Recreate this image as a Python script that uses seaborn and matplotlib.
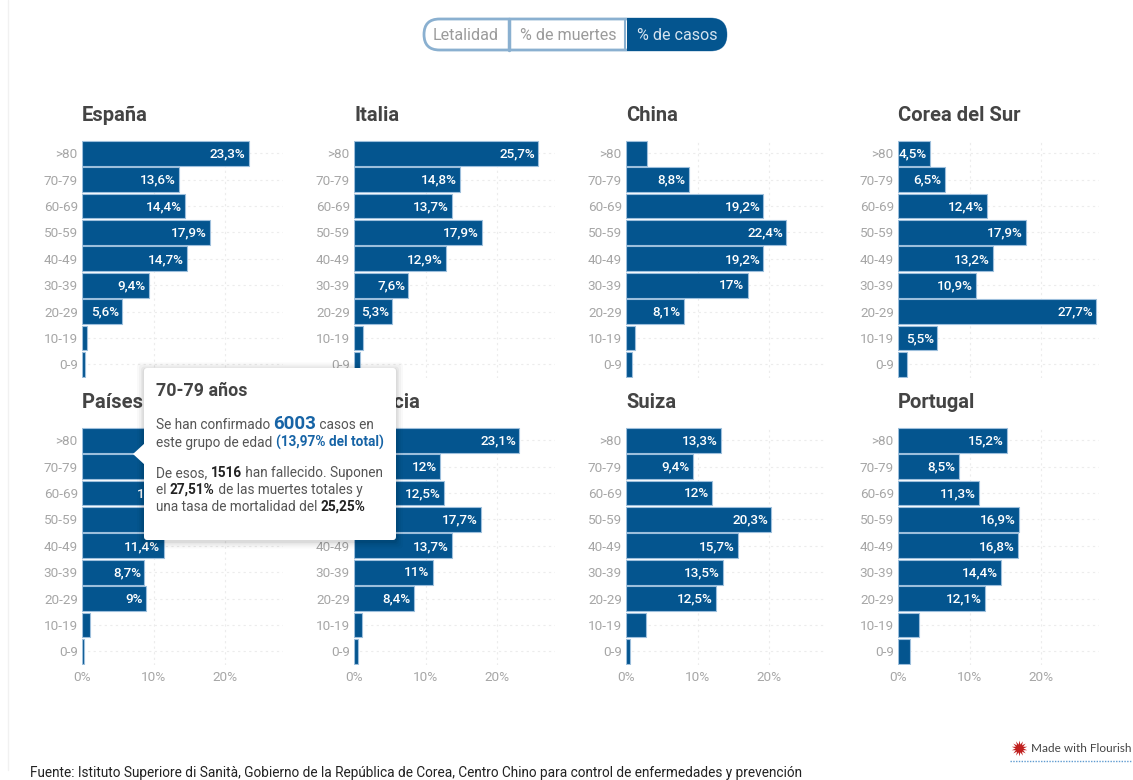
import numpy as np
import pandas as pd
import seaborn as sns
import matplotlib.pyplot as plt
from matplotlib.patches import FancyBboxPatch, Rectangle, Polygon

ages = ['>80', '70-79', '60-69', '50-59', '40-49', '30-39', '20-29', '10-19', '0-9']
countries = ['España', 'Italia', 'China', 'Corea del Sur',
             'Países Bajos', 'Francia', 'Suiza', 'Portugal']
espana = [23.3, 13.6, 14.4, 17.9, 14.7, 9.4, 5.6, 0.7, 0.4]
italia = [25.7, 14.8, 13.7, 17.9, 12.9, 7.6, 5.3, 1.3, 0.8]
china = [3.0, 8.8, 19.2, 22.4, 19.2, 17, 8.1, 1.2, 0.9]
corea = [4.5, 6.5, 12.4, 17.9, 13.2, 10.9, 27.7, 5.5, 1.2]
paises_bajos = [21.2, 14.6, 13.1, 16.1, 11.4, 8.7, 9, 1.1, 0.3]
francia = [23.1, 12, 12.5, 17.7, 13.7, 11, 8.4, 1.1, 0.5]
suiza = [13.3, 9.4, 12, 20.3, 15.7, 13.5, 12.5, 2.8, 0.5]
portugal = [15.2, 8.5, 11.3, 16.9, 16.8, 14.4, 12.1, 3, 1.7]
series = [espana, italia, china, corea, paises_bajos, francia, suiza, portugal]

BLUE = '#04558f'
EDGE = '#9dbfdc'
GREY = '#a6a6a6'
W, H = 1133, 780

sns.set_theme(style='white')
plt.rcParams['font.family'] = ['Roboto', 'DejaVu Sans']
fig = plt.figure(figsize=(W / 100, H / 100), dpi=100)

lefts = [82, 354, 626, 898]
tops = [140, 427]

for i, (name, vals) in enumerate(zip(countries, series)):
    row, col = divmod(i, 4)
    top = tops[row]
    ax = fig.add_axes([lefts[col] / W, 1 - (top + 237.5) / H, 200.5 / W, 237.5 / H])
    df = pd.DataFrame({'edad': ages, 'pct': vals})
    sns.barplot(data=df, y='edad', x='pct', color=BLUE, saturation=1, width=0.94,
                edgecolor=EDGE, linewidth=0.8, ax=ax)
    ax.set_xlim(0, 28)
    ax.set_ylim(8.5, -0.5)
    ax.set_xlabel('')
    ax.set_ylabel('')
    ax.set_axisbelow(True)
    ax.grid(True, color='#ececec', linestyle=(0, (2, 3)), linewidth=0.8)
    sns.despine(ax=ax, left=True, bottom=True)
    ax.set_xticks([0, 10, 20])
    if row == 1:
        ax.set_xticklabels(['0%', '10%', '20%'])
    else:
        ax.tick_params(axis='x', labelbottom=False)
    ax.tick_params(axis='y', length=0, labelsize=9.7, labelcolor=GREY, pad=3)
    ax.tick_params(axis='x', length=0, labelsize=9.7, labelcolor=GREY, pad=5)
    for y, v in enumerate(vals):
        if v >= 4:
            ax.annotate(f'{v:g}%'.replace('.', ','), (v, y), xytext=(-2.3, -0.5),
                        textcoords='offset points', ha='right', va='center',
                        color='white', fontsize=9.7, fontweight='medium')
    ax.text(0, -1.05, name, transform=ax.get_yaxis_transform(), fontsize=14.5,
            fontweight='bold', color='#444444', va='bottom')

# capa en pixeles para los controles, tooltip y pie
top_ax = fig.add_axes([0, 0, 1, 1], zorder=10)
top_ax.set_xlim(0, W)
top_ax.set_ylim(H, 0)
top_ax.axis('off')
top_ax.patch.set_alpha(0)

top_ax.plot([8, 8], [0, 770], color='#f1f1f1', lw=1)

# botones
pill = FancyBboxPatch((424, 19), 302, 31, boxstyle='round,pad=0,rounding_size=15.5',
                      fc='white', ec='#8ab0d0', lw=2)
top_ax.add_patch(pill)
dark = Rectangle((627, 17), 101, 35, fc=BLUE, ec='none')
top_ax.add_patch(dark)
clip = FancyBboxPatch((423, 18), 304, 33, boxstyle='round,pad=0,rounding_size=16.5',
                      fc='none', ec='none')
top_ax.add_patch(clip)
dark.set_clip_path(clip)
top_ax.plot([508.5, 508.5], [19, 50], color='#8ab0d0', lw=2.5)
top_ax.plot([624.5, 624.5], [19, 50], color='#8ab0d0', lw=1.5)
for x, s, c in [(466, 'Letalidad', '#9b9b9b'), (568, '% de muertes', '#9b9b9b'), (677, '% de casos', '#d5e3ef')]:
    top_ax.text(x, 35, s, ha='center', va='center', fontsize=11.6, color=c)

# tooltip
for pad, a in [(7, 0.025), (5, 0.03), (3, 0.04), (1.5, 0.05)]:
    top_ax.add_patch(FancyBboxPatch((144 - pad, 368 - pad + 1.5), 252 + 2 * pad, 172 + 2 * pad,
                                    boxstyle='round,pad=0,rounding_size=4', fc='black',
                                    ec='none', alpha=a))
top_ax.add_patch(FancyBboxPatch((144, 368), 252, 172, boxstyle='round,pad=0,rounding_size=3',
                                fc='white', ec='none'))
top_ax.add_patch(Polygon([[133, 454], [145, 443], [145, 465]], closed=True, fc='white', ec='none'))

fig.canvas.draw()
rend = fig.canvas.get_renderer()
DARK = '#555555'
TIP = '#1764a6'


def runs(x, y, parts):
    # escribe trozos de texto seguidos con estilos distintos
    for s, size, weight, color in parts:
        t = top_ax.text(x, y, s, fontsize=size, fontweight=weight, color=color, va='baseline')
        x = top_ax.transData.inverted().transform(t.get_window_extent(rend))[1][0]


runs(156, 396, [('70-79 años', 12.9, 'bold', '#444444')])
runs(156, 429, [('Se han confirmado ', 9.8, 'normal', DARK), ('6003', 13.5, 'bold', TIP),
                (' casos en', 9.8, 'normal', DARK)])
runs(156, 447, [('este grupo de edad ', 9.8, 'normal', DARK), ('(13,97% del total)', 9.8, 'bold', TIP)])
runs(156, 477, [('De esos, ', 9.8, 'normal', DARK), ('1516', 9.8, 'bold', '#222222'),
                (' han fallecido. Suponen', 9.8, 'normal', DARK)])
runs(156, 494, [('el ', 9.8, 'normal', DARK), ('27,51%', 9.8, 'bold', '#222222'),
                (' de las muertes totales y', 9.8, 'normal', DARK)])
runs(156, 511, [('una tasa de mortalidad del ', 9.8, 'normal', DARK), ('25,25%', 9.8, 'bold', '#222222')])

# pie
top_ax.text(30, 773, 'Fuente: Istituto Superiore di Sanità, Gobierno de la República de Corea, '
            'Centro Chino para control de enfermedades y prevención',
            fontsize=9.85, color='#222222', va='center')
top_ax.scatter([1019], [748], s=130, marker=(14, 1, 0), color='#c0201f', linewidths=0)
top_ax.text(1031, 748.5, 'Made with Flourish', family='Lato', fontsize=8.5, color='#444444', va='center')
top_ax.plot([1010, 1131], [761, 761], color='#5f9bd0', lw=1, linestyle=(0, (1, 1)))

fig.savefig('out.png', dpi=100)
